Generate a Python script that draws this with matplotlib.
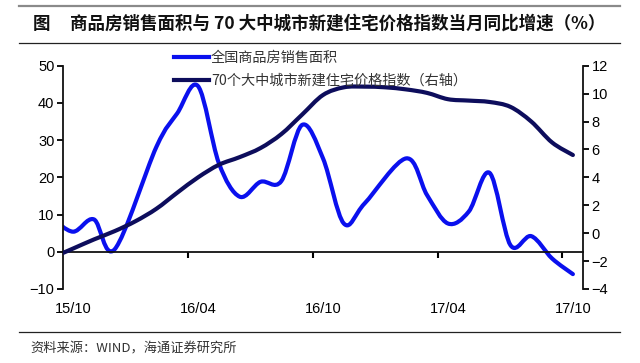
import matplotlib
matplotlib.use("Agg")
from matplotlib import pyplot as plt
from matplotlib.path import Path
from matplotlib.patches import PathPatch
from matplotlib.lines import Line2D
import numpy as np

plt.rcParams["font.family"] = ["Liberation Sans", "Noto Sans CJK SC", "DejaVu Sans"]
cjk = ["Noto Sans CJK SC", "DejaVu Sans"]

# monthly yoy of sales area (Jan is merged into Feb, so no Jan values)
sales_months = ["15/09", "15/10", "15/11", "15/12", "16/02", "16/03", "16/04",
                "16/05", "16/06", "16/07", "16/08", "16/09", "16/10", "16/11",
                "16/12", "17/02", "17/03", "17/04", "17/05", "17/06", "17/07",
                "17/08", "17/09", "17/10"]
sales_yoy = [9.0, 5.4, 8.7, 0.7, 28.2, 37.2, 44.5,
             23.8, 14.8, 18.8, 19.0, 34.1, 25.1, 7.6,
             13.0, 25.1, 15.2, 7.6, 10.8, 21.2, 1.8,
             4.2, -1.8, -6.0]

# 70 city new house price index yoy (right axis)
price_months = ["15/09", "15/10", "15/11", "15/12", "16/01", "16/02", "16/03",
                "16/04", "16/05", "16/06", "16/07", "16/08", "16/09", "16/10",
                "16/11", "16/12", "17/01", "17/02", "17/03", "17/04", "17/05",
                "17/06", "17/07", "17/08", "17/09", "17/10"]
price_yoy = [-1.75, -1.1, -0.45, 0.15, 0.86, 1.75, 2.9,
             4.0, 4.9, 5.45, 6.1, 7.1, 8.5, 9.9,
             10.45, 10.5, 10.45, 10.3, 10.05, 9.6, 9.5,
             9.4, 9.05, 8.0, 6.5, 5.6]

tick_labels = ["15/10", "16/04", "16/10", "17/04", "17/10"]

blue = "#0a10ee"
navy = "#0d0d5c"


def month_pos(m):
    yy, mm = m.split("/")
    return (int(yy) - 15) * 12 + int(mm) - 10


def smooth_path(xs, ys):
    # catmull-rom style bezier, like excel smoothed lines
    pts = np.column_stack([xs, ys]).astype(float)
    verts = [pts[0]]
    codes = [Path.MOVETO]
    n = len(pts)
    for i in range(n - 1):
        p0 = pts[i - 1] if i > 0 else pts[i]
        p1 = pts[i]
        p2 = pts[i + 1]
        p3 = pts[i + 2] if i + 2 < n else pts[i + 1]
        verts += [p1 + (p2 - p0) / 6, p2 - (p3 - p1) / 6, p2]
        codes += [Path.CURVE4] * 3
    return Path(verts, codes)


fig = plt.figure(figsize=(6.4, 3.63), dpi=100)
W, H = 640, 363
ax = fig.add_axes([62.7 / W, 1 - 289 / H, (583.3 - 62.7) / W, (289 - 65.7) / H])
ax2 = ax.twinx()

ax.set_xlim(-0.5, 24.5)
ax.set_ylim(-10, 50)
ax2.set_ylim(-4, 12)
ax.set_yticks(range(-10, 51, 10))
ax2.set_yticks(range(-4, 13, 2))

for a in (ax, ax2):
    a.spines["top"].set_visible(False)
    for s in a.spines.values():
        s.set_linewidth(1.3)
        s.set_color("#111111")
ax.spines["right"].set_visible(False)
ax2.spines["left"].set_visible(False)
ax2.spines["bottom"].set_visible(False)
ax.spines["bottom"].set_position(("data", 0))

ax.set_xticks([month_pos(m) for m in tick_labels])
ax.set_xticklabels(tick_labels)
ax.set_xticks([month_pos(m) - 0.5 for m in tick_labels[1:]], minor=True)
ax.tick_params(axis="x", which="major", length=0, pad=36, labelsize=10.5)
ax.tick_params(axis="x", which="minor", length=4, width=1.5, direction="out")
ax.tick_params(axis="y", length=4, width=1.3, direction="out", labelsize=10.5, pad=2)
ax2.tick_params(axis="y", length=4, width=1.3, direction="out", labelsize=10.5, pad=2)

sales_x = [month_pos(m) for m in sales_months]
price_x = [month_pos(m) for m in price_months]
ax.add_patch(PathPatch(smooth_path(sales_x, sales_yoy), facecolor="none",
                       edgecolor=blue, lw=3, capstyle="round", joinstyle="round"))
ax2.add_patch(PathPatch(smooth_path(price_x, price_yoy), facecolor="none",
                        edgecolor=navy, lw=3, capstyle="round", joinstyle="round"))

handles = [Line2D([], [], color=blue, lw=3), Line2D([], [], color=navy, lw=3)]
labels = ["全国商品房销售面积", "70个大中城市新建住宅价格指数（右轴）"]
fig.legend(handles, labels, loc="upper left", bbox_to_anchor=(174 / W, 1 - 51 / H),
           frameon=False, borderpad=0, borderaxespad=0, handlelength=2.5,
           handletextpad=0.1, labelspacing=0.6,
           prop={"family": cjk, "size": 10.2}, labelcolor="#333333")

# header, rules and source
fig.add_artist(Line2D([19 / W, 620 / W], [1 - 6 / H, 1 - 6 / H], color="#8a8a8a", lw=1.6))
fig.add_artist(Line2D([19 / W, 620 / W], [1 - 42.5 / H, 1 - 42.5 / H], color="#222222", lw=0.9))
fig.add_artist(Line2D([19 / W, 620 / W], [1 - 332 / H, 1 - 332 / H], color="#222222", lw=0.9))
fig.text(33 / W, 1 - 24 / H, "图", family=cjk, fontsize=12.6, fontweight="bold",
         va="center", ha="left", color="#111111")
fig.text(70 / W, 1 - 24 / H, "商品房销售面积与 70 大中城市新建住宅价格指数当月同比增速（%）",
         family=cjk, fontsize=12.6, fontweight="bold", va="center", ha="left", color="#111111")
fig.text(30 / W, 1 - 349 / H, "资料来源：WIND，海通证券研究所", family=cjk, fontsize=9.5,
         va="center", ha="left", color="#333333")

fig.savefig("out.png", dpi=100)
